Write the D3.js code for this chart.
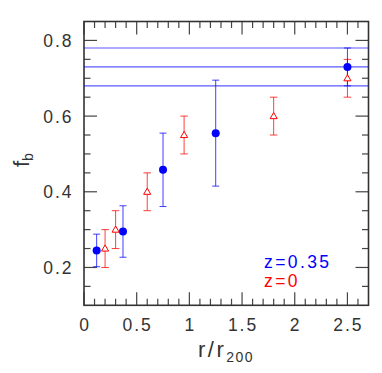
<!DOCTYPE html>
<html>
<head>
<meta charset="utf-8">
<script src="https://cdn.jsdelivr.net/npm/d3@7"></script>
<style>
html,body{margin:0;padding:0;background:#fff;}
svg{display:block;}
text{font-family:"Liberation Sans",sans-serif;}
</style>
</head>
<body>
<svg id="chart" width="382" height="373"></svg>
<script>
// Data
const blueR   = [0.12, 0.37, 0.75, 1.25, 2.50];
const blueF   = [0.245, 0.295, 0.458, 0.555, 0.730];
const blueErr = [0.043, 0.068, 0.097, 0.140, 0.050];

const redR   = [0.20, 0.30, 0.60, 0.95, 1.80, 2.50];
const redF   = [0.25, 0.30, 0.40, 0.55, 0.60, 0.70];
const redErr = [0.05, 0.05, 0.05, 0.05, 0.05, 0.05];

const hLines = [0.78, 0.73, 0.68];
const xTicks = [0, 0.5, 1, 1.5, 2, 2.5];
const yTicks = [0.2, 0.4, 0.6, 0.8];
const legendLabels = ["z=0.35", "z=0"];

const BLUE = "#0000ff", RED = "#ff0000";
const L = 84, R = 368.5, T = 21.5, B = 305.3;

const svg = d3.select("#chart");
const x = d3.scaleLinear().domain([0, 2.7]).range([L, R]);
const y = d3.scaleLinear().domain([0.1, 0.85]).range([B, T]);

const minorX = d3.range(0.1, 2.7, 0.1).map(v => +v.toFixed(2)).filter(v => Math.abs(v*2 - Math.round(v*2)) > 1e-6);
const minorY = d3.range(0.15, 0.85, 0.05).map(v => +v.toFixed(3)).filter(v => Math.abs(v*5 - Math.round(v*5)) > 1e-6);

const tickColor = "#444";
function tickLines(vals, len, scale, orient){
  const g = svg.append("g").attr("stroke", tickColor).attr("stroke-width", 1.2);
  vals.forEach(v => {
    const p = scale(v);
    if (orient === "bottom") g.append("line").attr("x1", p).attr("x2", p).attr("y1", B).attr("y2", B - len);
    if (orient === "top") g.append("line").attr("x1", p).attr("x2", p).attr("y1", T).attr("y2", T + len);
    if (orient === "left") g.append("line").attr("y1", p).attr("y2", p).attr("x1", L).attr("x2", L + len);
    if (orient === "right") g.append("line").attr("y1", p).attr("y2", p).attr("x1", R).attr("x2", R - len);
  });
}
tickLines(xTicks, 13, x, "bottom"); tickLines(xTicks, 13, x, "top");
tickLines(minorX, 6.5, x, "bottom"); tickLines(minorX, 6.5, x, "top");
tickLines(yTicks, 13, y, "left"); tickLines(yTicks, 13, y, "right");
tickLines(minorY, 6.5, y, "left"); tickLines(minorY, 6.5, y, "right");

// frame
svg.append("rect").attr("x", L).attr("y", T).attr("width", R - L).attr("height", B - T)
  .attr("fill", "none").attr("stroke", "#333").attr("stroke-width", 1.6);

// tick labels
const tickFont = 17.5;
svg.append("g").selectAll("text").data(xTicks).join("text")
  .attr("x", d => x(d) + 1).attr("y", 330.5).attr("text-anchor", "middle")
  .attr("font-size", tickFont).attr("fill", "#333").attr("letter-spacing", 2)
  .text(d => d3.format("")(d));
svg.append("g").selectAll("text").data(yTicks).join("text")
  .attr("x", 73.5).attr("y", d => y(d) + 6.5).attr("text-anchor", "end")
  .attr("font-size", tickFont).attr("fill", "#333").attr("letter-spacing", 2)
  .text(d => d3.format(".1f")(d));

// horizontal lines
svg.append("g").selectAll("line").data(hLines).join("line")
  .attr("x1", L).attr("x2", R).attr("y1", d => y(d)).attr("y2", d => y(d))
  .attr("stroke", BLUE).attr("stroke-opacity", 0.65).attr("stroke-width", 1.2);

// error bars
function errBars(rs, fs, es, color, cap){
  const g = svg.append("g").attr("stroke", color).attr("stroke-width", 1).attr("stroke-opacity", 0.75);
  rs.forEach((r, i) => {
    const cx = x(r), y1 = y(fs[i] + es[i]), y2 = y(fs[i] - es[i]);
    g.append("line").attr("x1", cx).attr("x2", cx).attr("y1", y1).attr("y2", y2);
    g.append("line").attr("x1", cx - cap).attr("x2", cx + cap).attr("y1", y1).attr("y2", y1);
    g.append("line").attr("x1", cx - cap).attr("x2", cx + cap).attr("y1", y2).attr("y2", y2);
  });
}
errBars(redR, redF, redErr, RED, 3.8);
errBars(blueR, blueF, blueErr, BLUE, 3.5);

// red open triangles
const tri = d3.symbol().type(d3.symbolTriangle).size(22);
svg.append("g").selectAll("path").data(redR).join("path")
  .attr("transform", (d, i) => `translate(${x(d)},${y(redF[i]) + 0.5})`)
  .attr("d", tri).attr("fill", "#fff").attr("stroke", RED).attr("stroke-width", 1);

// blue filled circles
svg.append("g").selectAll("circle").data(blueR).join("circle")
  .attr("cx", d => x(d)).attr("cy", (d, i) => y(blueF[i])).attr("r", 4)
  .attr("fill", BLUE);

// legend
svg.append("text").attr("x", 264).attr("y", 267.5).attr("font-size", 17.5)
  .attr("fill", BLUE).attr("letter-spacing", 2.4).text(legendLabels[0]);
svg.append("text").attr("x", 264).attr("y", 287).attr("font-size", 17.5)
  .attr("fill", RED).attr("letter-spacing", 2.4).text(legendLabels[1]);

// axis labels
const xl = svg.append("text").attr("x", 198).attr("y", 356.5)
  .attr("font-family", "Liberation Serif").attr("font-size", 22).attr("fill", "#333").attr("letter-spacing", 2.5);
xl.append("tspan").text("r/r");
xl.append("tspan").attr("font-family", "Liberation Sans").attr("font-size", 14).attr("dy", 5).attr("letter-spacing", 1.5).text("200");

const yl = svg.append("text").attr("transform", "translate(29,167) rotate(-90)")
  .attr("font-family", "Liberation Serif").attr("font-size", 22).attr("fill", "#333");
yl.append("tspan").text("f");
yl.append("tspan").attr("font-family", "Liberation Sans").attr("font-size", 14).attr("dy", 4).text("b");
</script>
</body>
</html>
